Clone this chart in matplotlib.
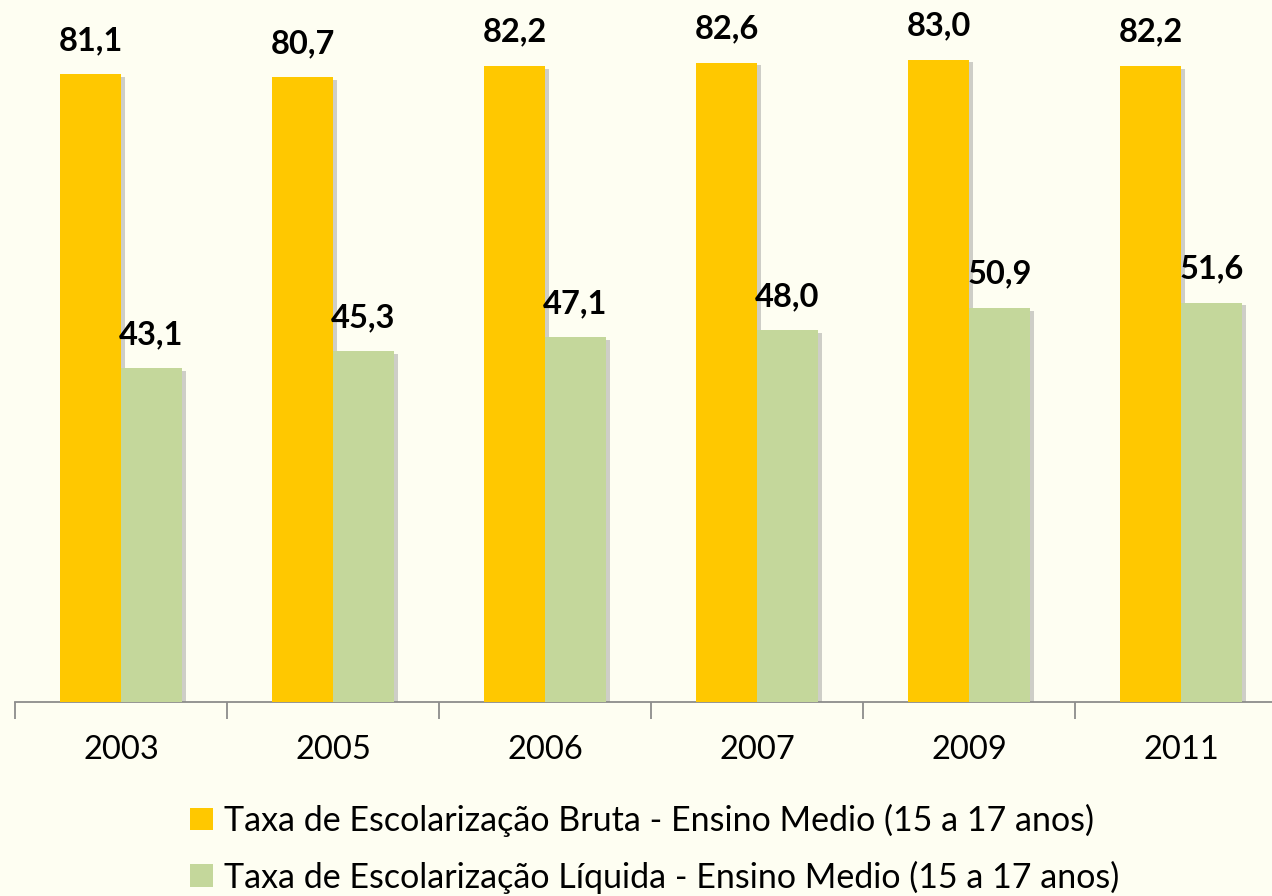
import matplotlib
matplotlib.use('Agg')
import matplotlib.pyplot as plt
import matplotlib.patheffects as pe
from matplotlib.patches import Patch
import numpy as np

# Dados
anos = ['2003', '2005', '2006', '2007', '2009', '2011']
taxa_bruta = [81.1, 80.7, 82.2, 82.6, 83.0, 82.2]
taxa_liquida = [43.1, 45.3, 47.1, 48.0, 50.9, 51.6]

_bruta = 'Taxa de Escolarização Bruta - Ensino Medio (15 a 17 anos)'
_liquida = 'Taxa de Escolarização Líquida - Ensino Medio (15 a 17 anos)'

_bg = '#FEFEF2'
_yellow = '#FFC800'
_green = '#C4D79B'

plt.rcParams['font.family'] = ['Lato', 'DejaVu Sans']


def fmt(v):
    return f'{v:.1f}'.replace('.', ',')


def main():
    fig = plt.figure(figsize=(12.72, 8.96), dpi=100, facecolor=_bg)
    ax = fig.add_axes([15 / 1272, 194 / 896, 1272 / 1272, 702 / 896])
    ax.set_facecolor(_bg)

    x = np.arange(len(anos)) + 0.5
    w = 0.288
    shadow = [pe.SimplePatchShadow(offset=(3, -2), shadow_rgbFace='#888888', alpha=0.4), pe.Normal()]

    b1 = ax.bar(x - w / 2, taxa_bruta, w, color=_yellow, path_effects=shadow, zorder=3)
    b2 = ax.bar(x + w / 2, taxa_liquida, w, color=_green, path_effects=shadow, zorder=3)

    for bars, vals in ((b1, taxa_bruta), (b2, taxa_liquida)):
        for rect, v in zip(bars, vals):
            ax.annotate(fmt(v), (rect.get_x() + rect.get_width() / 2, v),
                        xytext=(0, 14), textcoords='offset points',
                        ha='center', va='bottom', fontsize=23.5, fontweight='bold', color='black')

    ax.set_xlim(0, len(anos))
    ax.set_ylim(0, 90.7)
    ax.set_xticks(np.arange(len(anos) + 1))
    ax.set_xticklabels([])
    ax.set_xticks(x, minor=True)
    ax.set_xticklabels(anos, minor=True, fontsize=23.5)
    ax.tick_params(axis='x', which='major', length=12, width=1.3, color='#8c8c8c')
    ax.tick_params(axis='x', which='minor', length=0, pad=24)
    ax.set_yticks([])

    for s in ('top', 'right', 'left'):
        ax.spines[s].set_visible(False)
    ax.spines['bottom'].set_color('#8c8c8c')
    ax.spines['bottom'].set_linewidth(1.3)

    handles = [Patch(facecolor=_yellow, label=_bruta), Patch(facecolor=_green, label=_liquida)]
    fig.legend(handles=handles, loc='upper center', bbox_to_anchor=(0.515, 0.103),
               ncol=1, frameon=False, fontsize=24.5, handlelength=0.65, handleheight=0.65,
               handletextpad=0.35, labelspacing=0.7, borderaxespad=0, borderpad=0)

    fig.savefig('out.png', dpi=100, facecolor=_bg)


if __name__ == '__main__':
    main()
